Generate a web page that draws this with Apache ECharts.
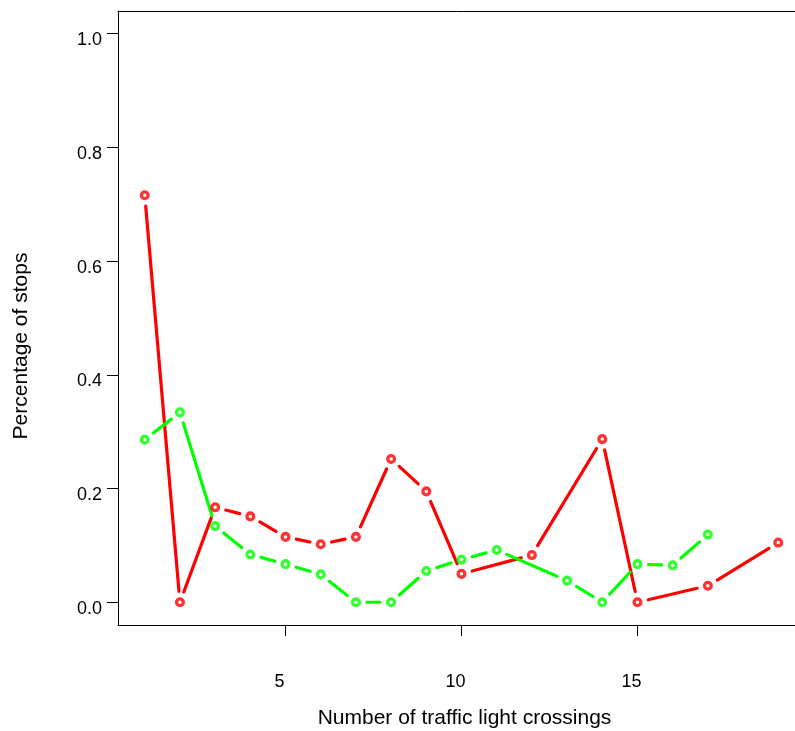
<!DOCTYPE html>
<html>
<head>
<meta charset="utf-8">
<title>Percentage of stops by traffic light crossings</title>
<script src="https://cdn.jsdelivr.net/npm/echarts@6/dist/echarts.min.js"></script>
<style>
  html, body { margin: 0; padding: 0; background: #fff; }
  #chart { width: 795px; height: 731px; }
</style>
</head>
<body>
<div id="chart"></div>
<script>
// Share of stops per number of traffic light crossings, two groups
const redX = [1, 2, 3, 4, 5, 6, 7, 8, 9, 10, 12, 14, 15, 17, 19];
const redY = [0.716, 0, 0.167, 0.151, 0.115, 0.102, 0.115, 0.252, 0.195, 0.050, 0.083, 0.287, 0, 0.029, 0.105];

const greenX = [1, 2, 3, 4, 5, 6, 7, 8, 9, 10, 11, 13, 14, 15, 16, 17];
const greenY = [0.286, 0.334, 0.134, 0.084, 0.067, 0.049, 0, 0, 0.055, 0.075, 0.092, 0.038, 0, 0.067, 0.065, 0.119];

const xTicks = [5, 10, 15];
const yTicks = [0, 0.2, 0.4, 0.6, 0.8, 1.0];

const FONT = "'Liberation Sans', Arial, Helvetica, sans-serif";
const RED = '#ff0000';
const GREEN = '#00ff00';
const X_MIN = 0.24, X_MAX = 19.76;

function points(xs, ys) {
  return xs.map((x, i) => [x, ys[i]]);
}
function segments(xs, ys) {
  const out = [];
  for (let i = 0; i < xs.length - 1; i++) {
    out.push([xs[i], ys[i], xs[i + 1], ys[i + 1]]);
  }
  return out;
}

// "both" style: each segment stops short of the point markers at its ends
const GAP = 11;
function gappedSegment(color) {
  return function (params, api) {
    const a = api.coord([api.value(0), api.value(1)]);
    const b = api.coord([api.value(2), api.value(3)]);
    const dx = b[0] - a[0], dy = b[1] - a[1];
    const len = Math.sqrt(dx * dx + dy * dy);
    if (len <= 2 * GAP + 1) return null;
    const ux = dx / len, uy = dy / len;
    return {
      type: 'line',
      shape: {
        x1: a[0] + ux * GAP, y1: a[1] + uy * GAP,
        x2: b[0] - ux * GAP, y2: b[1] - uy * GAP
      },
      style: { stroke: color, lineWidth: 3.2, lineCap: 'round' }
    };
  };
}

function lineSeries(xs, ys, color) {
  return {
    type: 'custom',
    renderItem: gappedSegment(color),
    data: segments(xs, ys),
    encode: { x: [0, 2], y: [1, 3] },
    clip: false,
    silent: true,
    z: 2
  };
}
function markerSeries(xs, ys, color) {
  return {
    type: 'scatter',
    data: points(xs, ys),
    symbol: 'circle',
    symbolSize: 6.8,
    itemStyle: { color: '#fff', borderColor: color, borderWidth: 3.3 },
    silent: true,
    z: 3
  };
}

const frameLine = { show: true, onZero: false, lineStyle: { color: '#000', width: 1 } };

const chart = echarts.init(document.getElementById('chart'), null, { renderer: 'canvas' });
chart.setOption({
  animation: false,
  backgroundColor: '#fff',
  textStyle: { fontFamily: FONT },
  grid: {
    left: 118, top: 11, width: 687, height: 614,
    outerBoundsMode: 'none',
    containLabel: false,
    show: false
  },
  xAxis: [{
    type: 'value',
    position: 'bottom',
    min: X_MIN, max: X_MAX,
    name: 'Number of traffic light crossings',
    nameLocation: 'middle',
    nameGap: 83,
    nameTextStyle: { fontFamily: FONT, fontSize: 21, color: '#000', padding: [0, 0, 0, 6] },
    axisLine: frameLine,
    splitLine: { show: false },
    axisTick: {
      show: true, customValues: xTicks, length: 11, inside: false,
      lineStyle: { color: '#000', width: 1 }
    },
    axisLabel: {
      customValues: xTicks,
      margin: 48,
      fontFamily: FONT, fontSize: 18, color: '#000',
      padding: [0, 12, 0, 0]
    }
  }, {
    type: 'value',
    position: 'top',
    min: X_MIN, max: X_MAX,
    axisLine: frameLine,
    axisTick: { show: false },
    axisLabel: { show: false },
    splitLine: { show: false }
  }],
  yAxis: {
    type: 'value',
    min: -0.04, max: 1.04,
    name: 'Percentage of stops',
    nameLocation: 'middle',
    nameGap: 86,
    nameTextStyle: { fontFamily: FONT, fontSize: 21, color: '#000', padding: [0, 56, 0, 0] },
    axisLine: frameLine,
    splitLine: { show: false },
    axisTick: {
      show: true, customValues: yTicks, length: 11, inside: false,
      lineStyle: { color: '#000', width: 1 }
    },
    axisLabel: {
      customValues: yTicks,
      margin: 16,
      fontFamily: FONT, fontSize: 18, color: '#000',
      verticalAlign: 'top',
      lineHeight: 13,
      formatter: v => Number(v).toFixed(1)
    }
  },
  series: [
    lineSeries(redX, redY, RED),
    markerSeries(redX, redY, RED),
    lineSeries(greenX, greenY, GREEN),
    markerSeries(greenX, greenY, GREEN)
  ]
});
</script>
</body>
</html>
